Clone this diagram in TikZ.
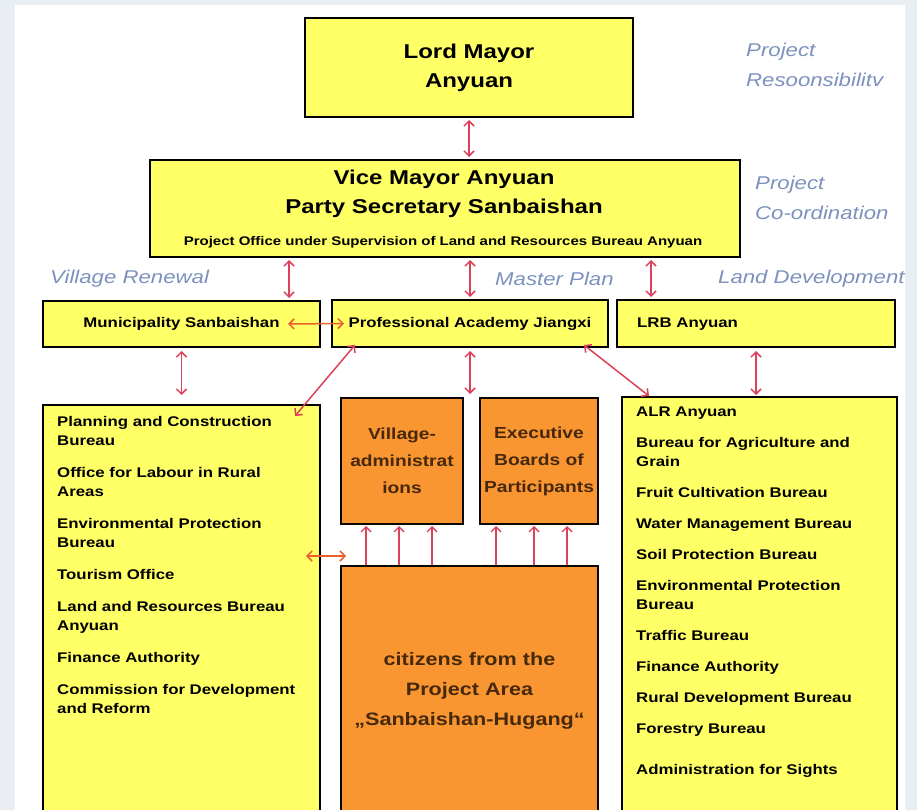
\documentclass[tikz,border=0pt]{standalone}
\usepackage{fontspec}
\setmainfont[FakeStretch=1.2]{Liberation Sans}
\usetikzlibrary{arrows.meta,calc}
\definecolor{boxyellow}{RGB}{255,255,102}
\definecolor{boxorange}{RGB}{250,150,50}
\definecolor{arrowred}{RGB}{220,65,90}
\definecolor{arroworange}{RGB}{235,95,45}
\definecolor{labelblue}{RGB}{125,145,190}
\definecolor{textbrown}{RGB}{70,40,10}
\definecolor{pagegrey}{RGB}{233,238,243}
\begin{document}
\begin{tikzpicture}[x=1pt, y=-1pt, >={Straight Barb[length=5pt,width=10pt]},
   ybox/.style={draw=black, line width=2pt, fill=boxyellow, inner sep=0pt, align=center},
   obox/.style={draw=black!85!textbrown, line width=2pt, fill=boxorange, inner sep=0pt, align=center, text=textbrown},
   head/.style={font=\fontsize{20}{29}\selectfont\bfseries},
   small/.style={font=\fontsize{14}{19}\selectfont\bfseries},
   list/.style={small, inner sep=0pt, align=left, anchor=north west},
   lab/.style={text=labelblue, font=\fontsize{18.5}{30}\selectfont\itshape, inner sep=0pt, align=left, anchor=west},
   arr/.style={draw=arrowred, line width=1.5pt, <->},
   up/.style={draw=arrowred, line width=1.3pt, ->},
   oarr/.style={draw=arroworange, line width=1.5pt, <->}]
   \useasboundingbox (0,0) rectangle (917,810);
   \fill[pagegrey] (0,0) rectangle (917,810);
   \fill[white] (15,5) rectangle (905,810);
   \node[ybox, head, minimum width=328, minimum height=99] (lord) at (469,67.5) {Lord Mayor\\Anyuan};
   \node[ybox, minimum width=590, minimum height=97] (vice) at (445,208.5) {};
   \node[head, inner sep=0pt, align=center] (vicetxt) at (444,194) {Vice Mayor Anyuan\\Party Secretary Sanbaishan};
   \node[font=\fontsize{12.5}{15}\selectfont\bfseries, inner sep=0pt] (office) at (443,242) {Project Office under Supervision of Land and Resources Bureau Anyuan};
   \node[lab] (resp) at (746,65) {Project\\Resoonsibilitv};
   \node[lab] (coord) at (755,197.5) {Project\\Co-ordination};
   \node[lab] (renew) at (50,279) {Village Renewal};
   \node[lab] (master) at (495,279) {Master Plan};
   \node[lab] (landdev) at (718,279) {Land Development};
   \node[ybox, small, minimum width=277, minimum height=46] (muni) at (181.5,324) {Municipality Sanbaishan};
   \node[ybox, small, minimum width=276, minimum height=47] (prof) at (470,323.5) {Professional Academy Jiangxi};
   \node[ybox, minimum width=278, minimum height=47] (lrb) at (756,323.5) {};
   \node[small, inner sep=0pt, anchor=west] (lrbtxt) at (637,324) {LRB Anyuan};
   \node[ybox, minimum width=277, minimum height=411] (left) at (181.5,610.5) {};
   \node[ybox, minimum width=275, minimum height=419] (right) at (759.5,606.5) {};
   \node[obox, font=\fontsize{16}{27}\selectfont\bfseries, minimum width=122, minimum height=126] (vill) at (402,461) {Village-\\administrat\\ions};
   \node[obox, font=\fontsize{16}{27}\selectfont\bfseries, minimum width=118, minimum height=126] (exec) at (539,461) {Executive\\Boards of\\Participants};
   \node[obox, font=\fontsize{18}{30}\selectfont\bfseries, minimum width=257, minimum height=250] (cit) at (469.5,691) {citizens from the\\Project Area\\„Sanbaishan-Hugang“};
   \node[list] (leftlist) at ($(left.north west)+(15,12)$) {Planning and Construction\\Bureau\\[13pt]
      Office for Labour in Rural\\Areas\\[13pt]
      Environmental Protection\\Bureau\\[13pt]
      Tourism Office\\[13pt]
      Land and Resources Bureau\\Anyuan\\[13pt]
      Finance Authority\\[13pt]
      Commission for Development\\and Reform};
   \node[list] (rightlist) at ($(right.north west)+(15,11)$) {ALR Anyuan\\[12pt]
      Bureau for Agriculture and\\Grain\\[12pt]
      Fruit Cultivation Bureau\\[12pt]
      Water Management Bureau\\[12pt]
      Soil Protection Bureau\\[12pt]
      Environmental Protection\\Bureau\\[12pt]
      Traffic Bureau\\[12pt]
      Finance Authority\\[12pt]
      Rural Development Bureau\\[12pt]
      Forestry Bureau\\[22pt]
      Administration for Sights};
   \draw[arr, shorten <=2pt, shorten >=2pt] (lord.south) -- (lord.south |- vice.north);
   \draw[arr, shorten <=2pt, shorten >=2pt] ([xshift=140]vice.south west) -- ([xshift=140]vice.south west |- muni.north);
   \draw[arr, shorten <=2pt, shorten >=2pt] (vice.south -| prof.north) -- (prof.north);
   \draw[arr, shorten <=2pt, shorten >=2pt] ([xshift=35]lrb.north west |- vice.south) -- ([xshift=35]lrb.north west);
   \draw[oarr] ([xshift=-33]muni.east) -- ([xshift=13]prof.west);
   \draw[arr, shorten <=3pt, shorten >=9pt] (muni.south) -- (muni.south |- left.north);
   \draw[arr] ([xshift=24,yshift=3]prof.south west) -- ([xshift=-26,yshift=-12]left.north east);
   \draw[arr, shorten <=3pt, shorten >=3pt] (prof.south) -- (prof.south |- vill.north);
   \draw[arr] ([xshift=-25,yshift=3]prof.south east) -- ([xshift=28]right.north west);
   \draw[arr, shorten <=3pt, shorten >=1pt] (lrb.south) -- (lrb.south |- right.north);
   \foreach \dx in {26,59,92,156,194,227}
      \draw[up, shorten >=1pt] ([xshift=\dx]cit.north west) -- ([xshift=\dx]cit.north west |- vill.south);
   \draw[oarr] ($(left.north east)+(-15,152)$) -- ($(cit.north west)+(6,-9)$);
\end{tikzpicture}
\end{document}
